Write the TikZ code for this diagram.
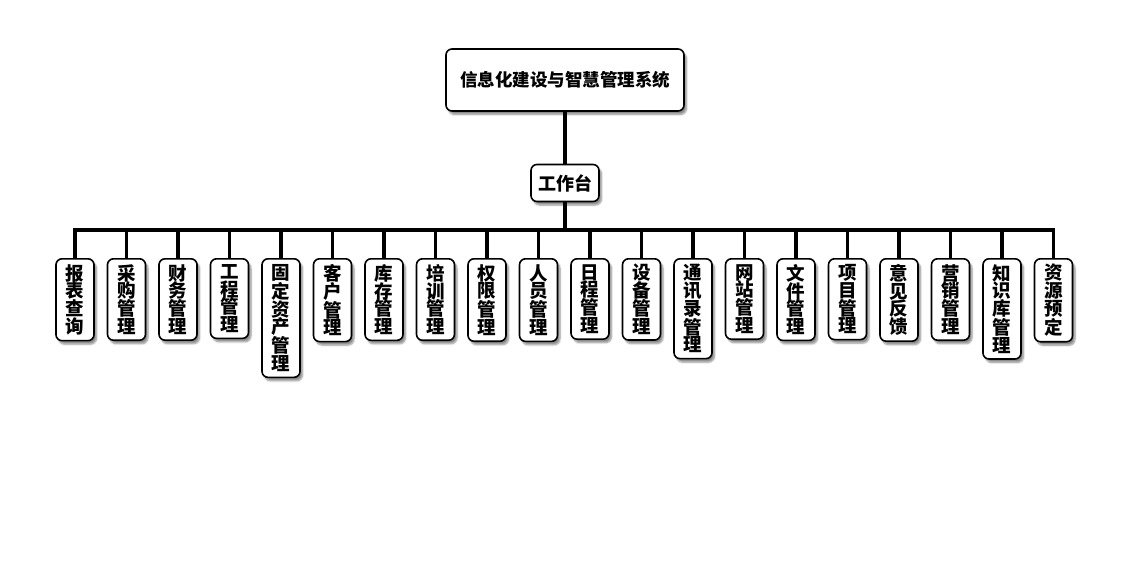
\documentclass[tikz,border=0pt]{standalone}
\usepackage{fontspec}
\newfontfamily\cjk{Noto Sans CJK SC}
\usetikzlibrary{shadows.blur}

\tikzset{
  box/.style={draw=black, line width=1.6pt, rounded corners=6pt, fill=white,
    blur shadow={shadow xshift=2.5pt, shadow yshift=-3.5pt, shadow blur steps=6, shadow opacity=45}},
  topbox/.style={box, minimum width=238pt, minimum height=62pt,
    font=\cjk\bfseries\fontsize{17.5}{18}\selectfont},
  midbox/.style={box, minimum width=68pt, minimum height=37pt, inner sep=2pt,
    font=\cjk\bfseries\fontsize{18}{18}\selectfont},
  leafbox/.style={box, align=center, minimum width=38pt, inner xsep=1pt, inner ysep=5.5pt,
    font=\cjk\bfseries\fontsize{18.5}{17.8}\selectfont},
  link/.style={line width=3.5pt}
}

\begin{document}
\begin{tikzpicture}[x=1pt,y=-1pt]
        % --- 1. Define Core Parameters ---
        \def\firstX{75}
        \def\gapX{51.5}
        \def\busY{230}
        \def\leafTop{258}

        \useasboundingbox (0,0) rectangle (1130,560);

        % --- 2. Upper Nodes ---
        \node[topbox] (sys) at (565,80) {信息化建设与智慧管理系统};
        \node[midbox] (tai) at (565,183) {工作台};
        \coordinate (bus) at (565,\busY);

        % --- 3. Modules ---
        \foreach \txt [count=\i] in {
            {报\\表\\查\\询}, {采\\购\\管\\理}, {财\\务\\管\\理}, {工\\程\\管\\理},
            {固\\定\\资\\产\\管\\理}, {客\\户\\管\\理}, {库\\存\\管\\理}, {培\\训\\管\\理},
            {权\\限\\管\\理}, {人\\员\\管\\理}, {日\\程\\管\\理}, {设\\备\\管\\理},
            {通\\讯\\录\\管\\理}, {网\\站\\管\\理}, {文\\件\\管\\理}, {项\\目\\管\\理},
            {意\\见\\反\\馈}, {营\\销\\管\\理}, {知\\识\\库\\管\\理}, {资\\源\\预\\定}}
          \node[leafbox, anchor=north] (m\i) at ({\firstX+(\i-1)*\gapX}, \leafTop) {\txt};

        % --- 4. Connectors ---
        \draw[link] (sys) -- (tai);
        \draw[link] (tai) -- (bus);
        \draw[link] (m1.north) |- (bus) -| (m20.north);
        \foreach \i in {2,...,19}
          \draw[link] (m\i.north) -- (m\i.north |- bus);
\end{tikzpicture}
\end{document}
